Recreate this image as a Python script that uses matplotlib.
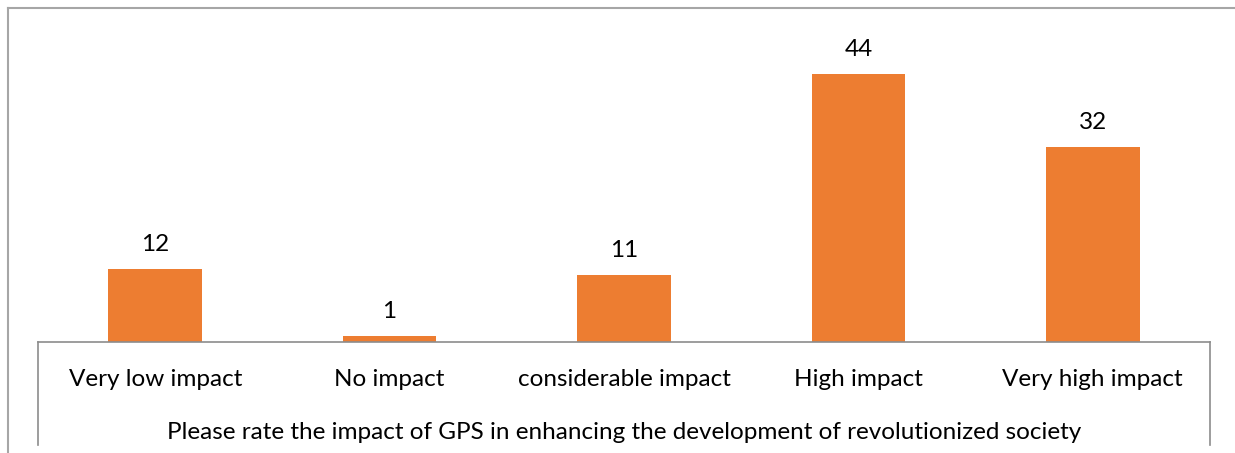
import matplotlib
matplotlib.use("Agg")
import matplotlib.pyplot as plt
from matplotlib.lines import Line2D

categories = ["Very low impact", "No impact", "considerable impact", "High impact", "Very high impact"]
counts = [12, 1, 11, 44, 32]
question = "Please rate the impact of GPS in enhancing the development of revolutionized society"

W, H = 1235, 453
plt.rcParams['font.family'] = ['Lato', 'DejaVu Sans']

fig = plt.figure(figsize=(W / 100, H / 100), dpi=100)

# plot area in pixels: x 38..1210, baseline at y=342
left, right, base, top = 38, 1210, 342, 20
ax = fig.add_axes([left / W, (H - base) / H, (right - left) / W, (base - top) / H])

x = range(len(categories))
bars = ax.bar(x, counts, width=0.40, color="#ED7D31")
ax.set_xlim(-0.5, len(categories) - 0.5)
ax.set_ylim(0, (base - top) / 6.09)

for rect, v in zip(bars, counts):
    ax.annotate(str(v), (rect.get_x() + rect.get_width() / 2, v),
                xytext=(0, 10), textcoords="offset points",
                ha="center", va="bottom", fontsize=17.5, color="#000000")

ax.set_xticks(list(x))
ax.set_xticklabels(categories, fontsize=17.5)
ax.tick_params(axis="x", length=0, pad=19.5)
ax.set_yticks([])
ax.set_xlabel(question, fontsize=17.5, labelpad=23)

for s in ["top", "left", "right"]:
    ax.spines[s].set_visible(False)
ax.spines["bottom"].set_color("#8C8C8C")
ax.spines["bottom"].set_linewidth(1.2)

def px(xp, yp):
    return xp / W, 1 - yp / H

# box around the category axis
for xv in (left, right):
    (x0, y0), (x1, y1) = px(xv, base), px(xv, 445)
    fig.add_artist(Line2D([x0, x1], [y0, y1], color="#8C8C8C", lw=1.2))

# outer chart frame (top and left edges)
(x0, y0), (x1, y1) = px(8, 8), px(W, 8)
fig.add_artist(Line2D([x0, x1], [y0, y1], color="#A6A6A6", lw=1.5))
(x0, y0), (x1, y1) = px(8, 8), px(8, H)
fig.add_artist(Line2D([x0, x1], [y0, y1], color="#A6A6A6", lw=1.5))

fig.savefig("out.png", dpi=100)
